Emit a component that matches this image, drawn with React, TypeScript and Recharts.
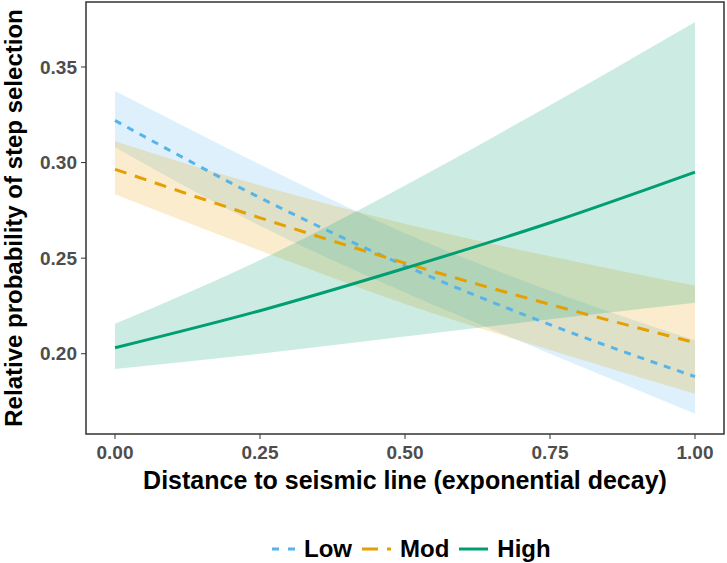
import React from "react";
import {
  ComposedChart,
  Area,
  Line,
  XAxis,
  YAxis,
  ReferenceArea,
  Legend,
} from "recharts";

// distance to seismic line (exponential decay)
const xs = [0, 0.25, 0.5, 0.75, 1];

const lowFit = [0.322, 0.2816, 0.246, 0.2152, 0.188];
const lowLo = [0.308, 0.267, 0.232, 0.2, 0.1686];
const lowHi = [0.3374, 0.299, 0.263, 0.233, 0.207];

const modFit = [0.2965, 0.2711, 0.2474, 0.2258, 0.2058];
const modLo = [0.2834, 0.254, 0.226, 0.202, 0.179];
const modHi = [0.3112, 0.288, 0.268, 0.251, 0.2357];

const highFit = [0.2031, 0.2225, 0.2447, 0.2685, 0.295];
const highLo = [0.192, 0.2, 0.209, 0.218, 0.2267];
const highHi = [0.2157, 0.249, 0.288, 0.33, 0.3736];

const xTicks = [0, 0.25, 0.5, 0.75, 1];
const yTicks = [0.2, 0.25, 0.3, 0.35];

const C_LOW = "#56B4E9";
const C_MOD = "#E69F00";
const C_HIGH = "#009E73";

const data = xs.map((x, i) => ({
  x,
  low: lowFit[i],
  lowBand: [lowLo[i], lowHi[i]],
  mod: modFit[i],
  modBand: [modLo[i], modHi[i]],
  high: highFit[i],
  highBand: [highLo[i], highHi[i]],
}));

const FONT = "'Liberation Sans', Arial, sans-serif";

function LegendBox() {
  const item = (color: string, dash: string | undefined, w: number, label: string) => (
    <span style={{ display: "inline-flex", alignItems: "center", marginRight: 10 }}>
      <svg width={w} height={10} style={{ marginRight: 9 }}>
        <line x1={0} y1={5} x2={w} y2={5} stroke={color} strokeWidth={3} strokeDasharray={dash} />
      </svg>
      <span>{label}</span>
    </span>
  );
  return (
    <div
      style={{
        display: "flex",
        alignItems: "center",
        height: 28,
        paddingLeft: 272,
        fontFamily: FONT,
        fontWeight: "bold",
        fontSize: 24,
        color: "#000",
      }}
    >
      {item(C_LOW, "7 9", 23, "Low")}
      {item(C_MOD, "16 9", 29, "Mod")}
      {item(C_HIGH, undefined, 29, "High")}
    </div>
  );
}

export default function App() {
  return (
    <div style={{ position: "absolute", left: 0, top: 0, width: 727, height: 563, background: "#fff" }}>
      <ComposedChart
        width={727}
        height={563}
        data={data}
        margin={{ top: 2, right: 3, bottom: 44, left: 0 }}
      >
        <XAxis
          dataKey="x"
          type="number"
          domain={[-0.05, 1.05]}
          ticks={xTicks}
          tickFormatter={(v: number) => v.toFixed(2)}
          axisLine={false}
          tickLine={{ stroke: "#333" }}
          tickSize={5}
          tickMargin={7}
          height={57}
          tick={{ fill: "#4d4d4d", fontSize: 19, fontWeight: "bold", fontFamily: FONT }}
          label={{
            value: "Distance to seismic line (exponential decay)",
            position: "insideBottom",
            offset: 2,
            fill: "#000",
            fontSize: 25,
            fontWeight: "bold",
            fontFamily: FONT,
          }}
        />
        <YAxis
          type="number"
          domain={[0.158, 0.384]}
          ticks={yTicks}
          tickFormatter={(v: number) => v.toFixed(2)}
          axisLine={false}
          tickLine={{ stroke: "#333" }}
          tickSize={5}
          tickMargin={4}
          width={86}
          tick={{ fill: "#4d4d4d", fontSize: 19, fontWeight: "bold", fontFamily: FONT }}
          label={{
            value: "Relative probability of step selection",
            angle: -90,
            position: "insideLeft",
            offset: 13,
            style: { textAnchor: "middle" },
            fill: "#000",
            fontSize: 24,
            fontWeight: "bold",
            fontFamily: FONT,
          }}
        />
        <Area dataKey="lowBand" type="monotone" stroke="none" fill={C_LOW} fillOpacity={0.2} isAnimationActive={false} />
        <Area dataKey="modBand" type="monotone" stroke="none" fill={C_MOD} fillOpacity={0.2} isAnimationActive={false} />
        <Area dataKey="highBand" type="monotone" stroke="none" fill={C_HIGH} fillOpacity={0.2} isAnimationActive={false} />
        <Line dataKey="low" type="monotone" stroke={C_LOW} strokeWidth={3} strokeDasharray="7 7" dot={false} isAnimationActive={false} />
        <Line dataKey="mod" type="monotone" stroke={C_MOD} strokeWidth={3} strokeDasharray="12 9" dot={false} isAnimationActive={false} />
        <Line dataKey="high" type="monotone" stroke={C_HIGH} strokeWidth={3} dot={false} isAnimationActive={false} />
        <ReferenceArea
          x1={-0.05}
          x2={1.05}
          y1={0.158}
          y2={0.384}
          fill="none"
          stroke="#333"
          strokeWidth={1.5}
        />
        <Legend verticalAlign="bottom" content={() => <LegendBox />} wrapperStyle={{ bottom: 0, left: 0, width: 727 }} />
      </ComposedChart>
    </div>
  );
}
